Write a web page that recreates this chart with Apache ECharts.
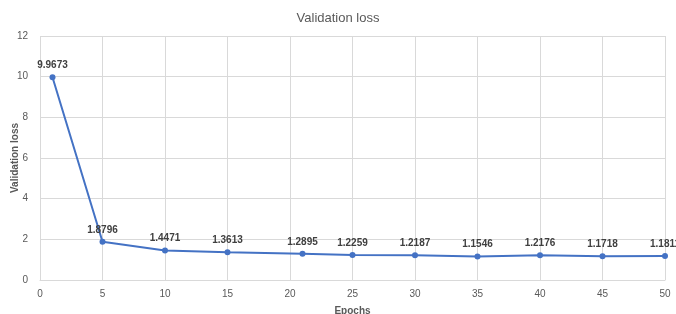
<!DOCTYPE html>
<html><head><meta charset="utf-8">
<script src="https://cdn.jsdelivr.net/npm/echarts@6/dist/echarts.min.js"></script>
<style>html,body{margin:0;padding:0;background:#fff}#c{width:676px;height:314px}</style>
</head><body><div id="c"></div>
<script>
const epochs = [1, 5, 10, 15, 21, 25, 30, 35, 40, 45, 50];
const valLoss = [9.9673, 1.8796, 1.4471, 1.3613, 1.2895, 1.2259, 1.2187, 1.1546, 1.2176, 1.1718, 1.1811];
const titleText = 'Validation loss';
const xName = 'Epochs';
const yName = 'Validation loss';

const chart = echarts.init(document.getElementById('c'), null, {renderer: 'canvas'});
const font = 'Liberation Sans, Arial, sans-serif';
chart.setOption({
  animation: false,
  textStyle: {fontFamily: font},
  title: {text: titleText, left: 'center', top: 7,
    textStyle: {fontSize: 13, fontWeight: 'normal', color: '#595959', fontFamily: font}},
  grid: {left: 40, right: 11, top: 36, bottom: 34, containLabel: false, outerBoundsMode: 'none'},
  xAxis: {type: 'value', min: 0, max: 50, interval: 5,
    name: xName, nameLocation: 'middle', nameGap: 26, nameMoveOverlap: false,
    nameTextStyle: {color: '#595959', fontSize: 10, fontWeight: 'bold'},
    axisLine: {show: true, lineStyle: {color: '#d9d9d9'}},
    axisTick: {show: false},
    axisLabel: {color: '#595959', fontSize: 10, margin: 9},
    splitLine: {show: true, lineStyle: {color: '#d9d9d9'}}},
  yAxis: {type: 'value', min: 0, max: 12, interval: 2,
    name: yName, nameLocation: 'middle', nameGap: 20, nameRotate: 90, nameMoveOverlap: false,
    nameTextStyle: {color: '#595959', fontSize: 10, fontWeight: 'bold'},
    axisLine: {show: false}, axisTick: {show: false},
    axisLabel: {color: '#595959', fontSize: 10, margin: 12},
    splitLine: {show: true, lineStyle: {color: '#d9d9d9'}}},
  series: [{
    type: 'line',
    data: epochs.map((e, i) => [e, valLoss[i]]),
    symbol: 'circle', symbolSize: 6,
    lineStyle: {color: '#4472C4', width: 2},
    itemStyle: {color: '#4472C4'},
    label: {show: true, position: 'top', distance: 4, fontSize: 10, fontWeight: 'bold', color: '#404040',
      formatter: p => valLoss[p.dataIndex].toFixed(4)}
  }]
});
</script></body></html>
